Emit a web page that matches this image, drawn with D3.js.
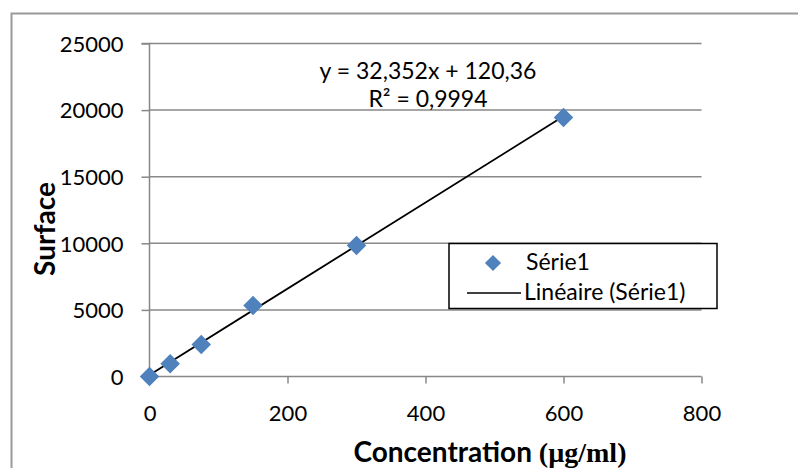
<!DOCTYPE html>
<html><head><meta charset="utf-8">
<script src="https://cdn.jsdelivr.net/npm/d3@7"></script>
<style>body{margin:0;background:#fff}svg{display:block}</style>
</head><body>
<svg id="c" width="798" height="468"></svg>
<script>
const concentrations = [0, 30, 75, 150, 300, 600];
const surfaces = [0, 950, 2400, 5330, 9830, 19450];
const slope = 32.352, intercept = 120.36;
const equationText = "y = 32,352x + 120,36";
const r2Text = "R² = 0,9994";
const xTicks = [0, 200, 400, 600, 800];
const yTicks = [0, 5000, 10000, 15000, 20000, 25000];
const seriesName = "Série1";
const trendName = "Linéaire (Série1)";

const svg = d3.select("#c");
const font = "Lato, 'Open Sans', sans-serif";
const grid = "#888888";
const markerColor = "#4F81BD";

svg.append("rect").attr("x", 11.5).attr("y", 13.5).attr("width", 820).attr("height", 500)
  .attr("fill", "none").attr("stroke", "#999").attr("stroke-width", 2);

const x = d3.scaleLinear().domain([0, 800]).range([149.5, 701.5]);
const y = d3.scaleLinear().domain([0, 25000]).range([376.5, 43.5]);

// gridlines
svg.append("g").selectAll("line").data(yTicks.filter(d => d > 0)).join("line")
  .attr("x1", x(0)).attr("x2", x(800)).attr("y1", d => y(d)).attr("y2", d => y(d))
  .attr("stroke", grid).attr("stroke-width", 1.5);

// y axis
const ya = svg.append("g").attr("transform", `translate(${x(0)},0)`)
  .call(d3.axisLeft(y).tickValues(yTicks).tickSize(8).tickPadding(18).tickFormat(d3.format("d")));
ya.select(".domain").attr("stroke", grid).attr("stroke-width", 1.5).attr("d", `M-8,${y(25000)}H0V${y(0)}H-8`);
ya.selectAll(".tick line").attr("stroke", grid).attr("stroke-width", 1.5);
ya.selectAll(".tick text").attr("font-family", font).attr("font-size", 22).attr("fill", "#000").attr("dy", "0.35em");

// x axis
const xa = svg.append("g").attr("transform", `translate(0,${y(0)})`)
  .call(d3.axisBottom(x).tickValues(xTicks).tickSize(7).tickPadding(22).tickFormat(d3.format("d")));
xa.select(".domain").attr("stroke", grid).attr("stroke-width", 1.5).attr("d", `M${x(0)},0H${x(800)}`);
xa.selectAll(".tick line").attr("stroke", grid).attr("stroke-width", 1.5);
xa.selectAll(".tick text").attr("font-family", font).attr("font-size", 22).attr("fill", "#000");

// trendline
const tx = d3.extent(concentrations);
svg.append("line")
  .attr("x1", x(tx[0])).attr("y1", y(slope * tx[0] + intercept))
  .attr("x2", x(tx[1])).attr("y2", y(slope * tx[1] + intercept))
  .attr("stroke", "#000").attr("stroke-width", 1.8);

// markers
const diamond = d3.symbol().type(d3.symbolSquare).size(190);
svg.append("g").selectAll("path").data(concentrations.map((c, i) => [c, surfaces[i]])).join("path")
  .attr("d", diamond)
  .attr("transform", d => `translate(${x(d[0])},${y(d[1])}) rotate(45)`)
  .attr("fill", markerColor);

// equation
svg.append("text").attr("x", 428).attr("y", 79).attr("text-anchor", "middle")
  .attr("font-family", font).attr("font-size", 23).text(equationText);
svg.append("text").attr("x", 428).attr("y", 107).attr("text-anchor", "middle")
  .attr("font-family", font).attr("font-size", 23).text(r2Text);

// legend
const lg = svg.append("g");
lg.append("rect").attr("x", 449).attr("y", 243.5).attr("width", 268).attr("height", 65)
  .attr("fill", "#fff").attr("stroke", "#000").attr("stroke-width", 1.5);
lg.append("path").attr("d", d3.symbol().type(d3.symbolSquare).size(130))
  .attr("transform", "translate(493,263) rotate(45)").attr("fill", markerColor);
lg.append("text").attr("x", 526).attr("y", 270).attr("font-family", font).attr("font-size", 23).text(seriesName);
lg.append("line").attr("x1", 467).attr("x2", 521).attr("y1", 293).attr("y2", 293)
  .attr("stroke", "#000").attr("stroke-width", 1.5);
lg.append("text").attr("x", 524).attr("y", 300).attr("font-family", font).attr("font-size", 23).text(trendName);

// axis titles
svg.append("text").attr("transform", "translate(55,229) rotate(-90)").attr("text-anchor", "middle")
  .attr("font-family", font).attr("font-weight", "bold").attr("font-size", 28).text("Surface");
const xt = svg.append("text").attr("x", 490).attr("y", 462).attr("text-anchor", "middle")
  .attr("font-size", 28).attr("font-weight", "bold");
xt.append("tspan").attr("font-family", font).text("Concentration ");
xt.append("tspan").attr("font-family", "'Liberation Serif', serif").text("(µg/ml)");
</script>
</body></html>
